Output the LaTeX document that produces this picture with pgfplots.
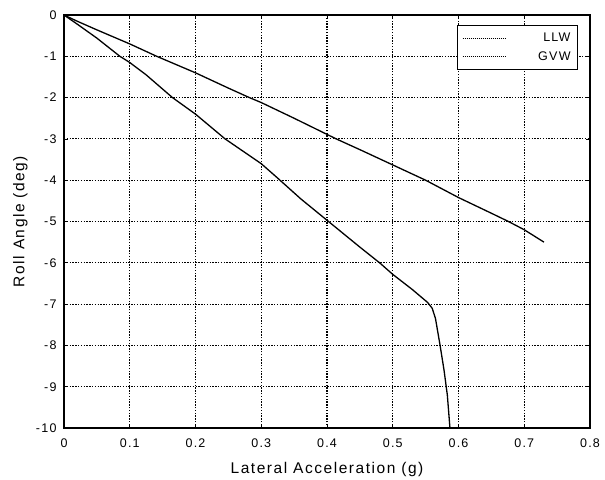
\documentclass[border=0pt]{standalone}
\usepackage{fontspec}
\setmainfont{Liberation Sans}[LetterSpace=10]
\usepackage{pgfplots}
\pgfplotsset{compat=1.18}

\begin{document}
\begin{tikzpicture}
\begin{axis}[
  width=526pt, height=413pt, scale only axis,
  xmin=0, xmax=0.8, ymin=-10, ymax=0,
  xtick={0,0.1,0.2,0.3,0.4,0.5,0.6,0.7,0.8},
  xticklabels={0,0.1,0.2,0.3,0.4,0.5,0.6,0.7,0.8},
  ytick={-10,-9,-8,-7,-6,-5,-4,-3,-2,-1,0},
  yticklabels={-10,-9,-8,-7,-6,-5,-4,-3,-2,-1,0},
  grid=major,
  major grid style={black, line width=1.1pt, dash pattern=on 1.4pt off 1.4pt},
  axis line style={black, line width=1.5pt},
  tick align=inside, major tick length=4pt,
  tick style={black, line width=0.8pt},
  tick label style={font=\fontsize{12.5}{14}\selectfont},
  xticklabel style={anchor=base, yshift=-19pt},
  yticklabel style={anchor=east, xshift=-4pt},
  label style={font=\fontsize{15.5}{17}\selectfont},
  xlabel={Lateral Acceleration (g)},
  xlabel style={at={(axis description cs:0.5,0)}, anchor=base, yshift=-45pt},
  ylabel={Roll Angle (deg)},
  ylabel style={at={(axis description cs:-0.083,0.5)}, anchor=center, rotate=0},
  legend style={at={(axis description cs:0.977,0.976)}, anchor=north east,
    draw=black, line width=0.7pt, fill=white,
    font=\fontsize{12.5}{14}\selectfont,
    inner xsep=5pt, inner ysep=6pt, row sep=4pt, column sep=30pt},
  legend cell align=right,
  legend image code/.code={\draw[black, line width=1pt, dash pattern=on 1.2pt off 0.8pt] (0pt,0pt) -- (43pt,0pt);},
]
\addplot[black, line width=1.3pt] coordinates {
  (0,0) (0.02,-0.15) (0.05,-0.36) (0.1,-0.7) (0.141,-1.0) (0.2,-1.4)
  (0.25,-1.77) (0.282,-2.0) (0.3,-2.12) (0.35,-2.5) (0.414,-3.0)
  (0.45,-3.26) (0.5,-3.63) (0.55,-4.0) (0.6,-4.42) (0.65,-4.8)
  (0.676,-5.0) (0.7,-5.2) (0.73,-5.5)
};
\addlegendentry{LLW}
\addplot[black, line width=1.3pt] coordinates {
  (0,0) (0.02,-0.22) (0.05,-0.56) (0.085,-1.0) (0.1,-1.15) (0.125,-1.45)
  (0.165,-2.0) (0.2,-2.4) (0.245,-3.0) (0.3,-3.6) (0.325,-3.95)
  (0.36,-4.45) (0.4,-4.97) (0.45,-5.62) (0.48,-6.0) (0.5,-6.28)
  (0.53,-6.65) (0.553,-6.96) (0.56,-7.1) (0.565,-7.35) (0.572,-8.0)
  (0.578,-8.6) (0.583,-9.2) (0.587,-10)
};
\addlegendentry{GVW}
\end{axis}
\path ([shift={(-64pt,-49pt)}]current axis.south west) rectangle ([shift={(15pt,15pt)}]current axis.north east);
\end{tikzpicture}
\end{document}
